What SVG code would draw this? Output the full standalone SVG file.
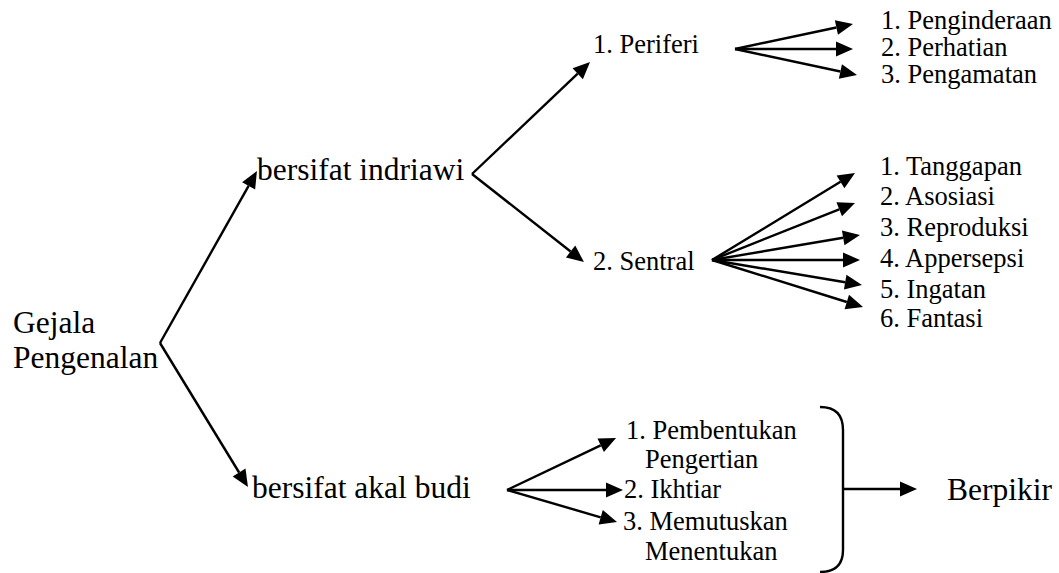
<svg xmlns="http://www.w3.org/2000/svg" width="1059" height="573" viewBox="0 0 1059 573">
<style>
text{font-family:"Liberation Serif","Times New Roman",serif;fill:#000}
.big{font-size:31.5px}
.sm{font-size:26.5px}
.c line,.c path{stroke:#000;stroke-width:2.4;fill:none}
.c line{marker-end:url(#ah)}
</style>
<defs>
<marker id="ah" markerUnits="userSpaceOnUse" markerWidth="17" markerHeight="15" refX="0" refY="7.5" orient="auto" overflow="visible">
<path d="M0,0 L17,7.5 L0,15 z" fill="#000"/>
</marker>
</defs>
<rect width="1059" height="573" fill="#fff"/>
<g id="connectors" class="c">
<line x1="160" y1="343" x2="248.6" y2="185.9"/>
<line x1="160" y1="343" x2="239.1" y2="472.5"/>
<line x1="472" y1="174" x2="577.7" y2="73.7"/>
<line x1="472" y1="174" x2="570.6" y2="251.5"/>
<line x1="735" y1="49" x2="836.4" y2="27.5"/>
<line x1="735" y1="49" x2="836" y2="49"/>
<line x1="735" y1="49" x2="840.4" y2="71.5"/>
<line x1="712" y1="260" x2="840.5" y2="181.8"/>
<line x1="712" y1="260" x2="839.2" y2="209.3"/>
<line x1="712" y1="260" x2="843.2" y2="237.8"/>
<line x1="712" y1="260" x2="843" y2="260"/>
<line x1="712" y1="260" x2="845.2" y2="282.2"/>
<line x1="712" y1="260" x2="846.8" y2="302"/>
<line x1="507" y1="490" x2="600.7" y2="445.3"/>
<line x1="507" y1="490" x2="606" y2="490"/>
<line x1="507" y1="490" x2="600.7" y2="517.3"/>
<path id="bracket" d="M820,407 Q843,407 843,430 L843,550 Q843,572 820,572"/>
<line x1="843" y1="489" x2="900" y2="489"/>
</g>
<g id="gejala"><text class="big" x="13" y="333">Gejala</text><text class="big" x="13" y="368">Pengenalan</text></g>
<g id="indriawi"><text class="big" x="257" y="180">bersifat indriawi</text></g>
<g id="akalbudi"><text class="big" x="252" y="498">bersifat akal budi</text></g>
<g id="periferi"><text class="sm" x="593" y="53">1. Periferi</text></g>
<g id="sentral"><text class="sm" x="593" y="270">2. Sentral</text></g>
<g id="periferi-list">
<text class="sm" x="881" y="29">1. Penginderaan</text>
<text class="sm" x="881" y="56">2. Perhatian</text>
<text class="sm" x="881" y="83">3. Pengamatan</text>
</g>
<g id="sentral-list">
<text class="sm" x="880" y="175">1. Tanggapan</text>
<text class="sm" x="880" y="205">2. Asosiasi</text>
<text class="sm" x="880" y="236">3. Reproduksi</text>
<text class="sm" x="880" y="267">4. Appersepsi</text>
<text class="sm" x="880" y="298">5. Ingatan</text>
<text class="sm" x="880" y="327">6. Fantasi</text>
</g>
<g id="akal-list">
<text class="sm" x="626" y="439">1. Pembentukan</text>
<text class="sm" x="645" y="468">Pengertian</text>
<text class="sm" x="624" y="498">2. Ikhtiar</text>
<text class="sm" x="623" y="530">3. Memutuskan</text>
<text class="sm" x="645" y="560">Menentukan</text>
</g>
<g id="berpikir"><text class="big" x="947" y="500">Berpikir</text></g>
</svg>
